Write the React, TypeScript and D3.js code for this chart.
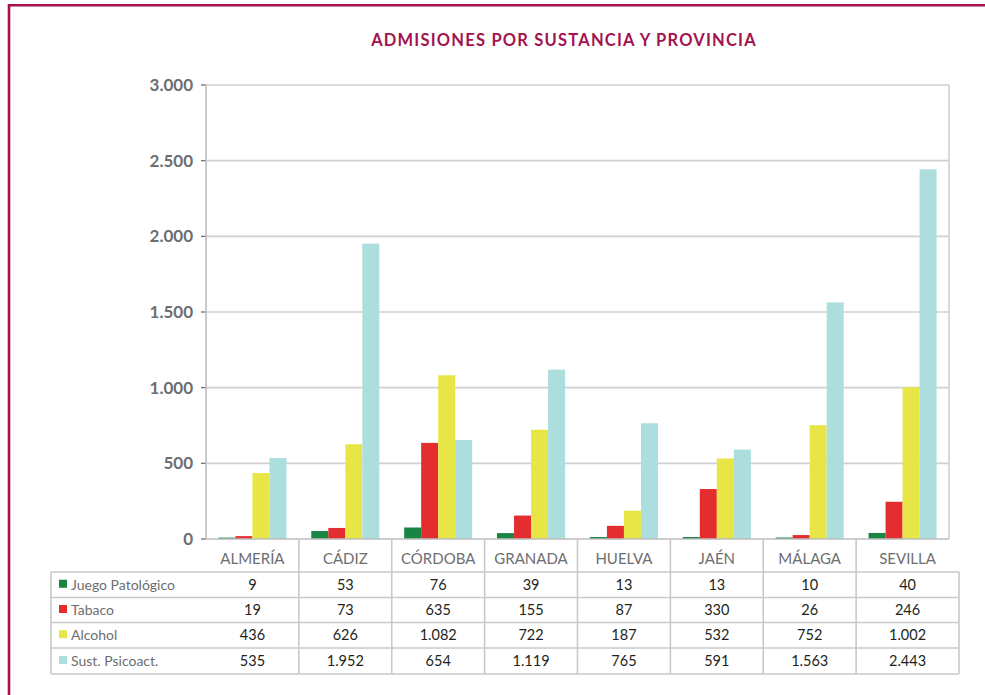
import React from 'react'
import * as d3 from 'd3'

const provincias = ['ALMERÍA', 'CÁDIZ', 'CÓRDOBA', 'GRANADA', 'HUELVA', 'JAÉN', 'MÁLAGA', 'SEVILLA']
const sustancias = ['Juego Patológico', 'Tabaco', 'Alcohol', 'Sust. Psicoact.']
const juego = [9, 53, 76, 39, 13, 13, 10, 40]
const tabaco = [19, 73, 635, 155, 87, 330, 26, 246]
const alcohol = [436, 626, 1082, 722, 187, 532, 752, 1002]
const psicoact = [535, 1952, 654, 1119, 765, 591, 1563, 2443]
const yTicks = [0, 500, 1000, 1500, 2000, 2500, 3000]
const colores = ['#1a8443', '#e42d2e', '#e8e646', '#acdedd']

const series = [juego, tabaco, alcohol, psicoact]

const W = 985
const H = 695
const plot = { left: 206, right: 949, top: 85, bottom: 539 }
const tableLeft = 51
const tableRight = 959
const rowTops = [572, 597.5, 622.5, 648, 674]

const fmt = (v: number) => d3.format(',')(v).replace(/,/g, '.')

const FONT = 'Lato, "Open Sans", sans-serif'
const GRID = '#d0d0d0'
const TBL = '#c9c9c9'

const App = () => {
  const x0 = d3.scaleBand<string>().domain(provincias).range([plot.left, plot.right]).padding(0)
  const x1 = d3.scaleBand<number>()
    .domain(d3.range(series.length))
    .range([0, x0.bandwidth()])
    .paddingInner(0)
    .paddingOuter(0.73)
  const y = d3.scaleLinear().domain([0, 3000]).range([plot.bottom, plot.top])

  // column edges for the table (last column stretches to table edge)
  const colEdge = (i: number) => (i >= provincias.length ? tableRight : (x0(provincias[i]) as number))
  const colMid = (i: number) => (colEdge(i) + colEdge(i + 1)) / 2

  return (
    <div style={{ position: 'absolute', left: 0, top: 0 }}>
      <svg width={W} height={H} style={{ display: 'block', fontFamily: FONT }}>
        <rect x={0} y={0} width={W} height={H} fill="#fff" />
        {/* frame */}
        <line x1={9} x2={W} y1={5.2} y2={5.2} stroke="#a3134f" strokeWidth={2.6} />
        <line x1={9} x2={9} y1={4} y2={H} stroke="#a3134f" strokeWidth={2.6} />

        <text x={564} y={46} textAnchor="middle" fill="#a3134f" fontSize={16.5} fontWeight={700} letterSpacing={1.2}>
          ADMISIONES POR SUSTANCIA Y PROVINCIA
        </text>

        {/* grid */}
        {yTicks.map(t => (
          <g key={t}>
            <line x1={plot.left - 5} x2={plot.left} y1={y(t)} y2={y(t)} stroke="#666" strokeWidth={1.2} />
            {t > 0 && (
              <line x1={plot.left} x2={plot.right} y1={y(t)} y2={y(t)} stroke={GRID} strokeWidth={1.6} />
            )}
            <text x={193} y={y(t)} dy="0.36em" textAnchor="end" fill="#6d6e70" fontSize={17} fontWeight={700}>
              {fmt(t)}
            </text>
          </g>
        ))}
        <line x1={plot.right} x2={plot.right} y1={plot.top} y2={plot.bottom} stroke={GRID} strokeWidth={1.6} />
        <line x1={plot.left} x2={plot.left} y1={plot.top} y2={plot.bottom} stroke="#bdbdbd" strokeWidth={1.6} />

        {/* bars */}
        {provincias.map((p, i) => (
          <g key={p} transform={`translate(${x0(p)},0)`}>
            {series.map((s, k) => (
              <rect
                key={k}
                x={x1(k)}
                y={y(s[i])}
                width={x1.bandwidth()}
                height={plot.bottom - y(s[i])}
                fill={colores[k]}
              />
            ))}
          </g>
        ))}
        <line x1={plot.left} x2={plot.right} y1={plot.bottom} y2={plot.bottom} stroke="#bdbdbd" strokeWidth={1.6} />

        {/* category header row */}
        {provincias.map((p, i) => (
          <g key={p}>
            {i > 0 && (
              <line x1={x0(p)} x2={x0(p)} y1={plot.bottom} y2={rowTops[0]} stroke={TBL} strokeWidth={1.6} />
            )}
            <text x={colMid(i)} y={559} dy="0.35em" textAnchor="middle" fill="#6d6e70" fontSize={15}>
              {p}
            </text>
          </g>
        ))}

        {/* data table */}
        {rowTops.map(r => (
          <line key={r} x1={tableLeft} x2={tableRight} y1={r} y2={r} stroke={TBL} strokeWidth={1.6} />
        ))}
        <line x1={tableLeft} x2={tableLeft} y1={rowTops[0]} y2={rowTops[4]} stroke={TBL} strokeWidth={1.6} />
        <line x1={tableRight} x2={tableRight} y1={rowTops[0]} y2={rowTops[4]} stroke={TBL} strokeWidth={1.6} />
        {provincias.map((p, i) =>
          i > 0 ? (
            <line key={p} x1={x0(p)} x2={x0(p)} y1={rowTops[0]} y2={rowTops[4]} stroke={TBL} strokeWidth={1.6} />
          ) : null
        )}
        {sustancias.map((s, k) => {
          const cy = (rowTops[k] + rowTops[k + 1]) / 2
          return (
            <g key={s}>
              <rect x={59} y={cy - 5} width={8} height={8} fill={colores[k]} />
              <text x={71} y={cy} dy="0.35em" fill="#6d6e70" fontSize={14}>
                {s}
              </text>
              {series[k].map((v, i) => (
                <text key={i} x={colMid(i)} y={cy} dy="0.35em" textAnchor="middle" fill="#231f20" fontSize={14.5}>
                  {fmt(v)}
                </text>
              ))}
            </g>
          )
        })}
      </svg>
    </div>
  )
}

export default App
